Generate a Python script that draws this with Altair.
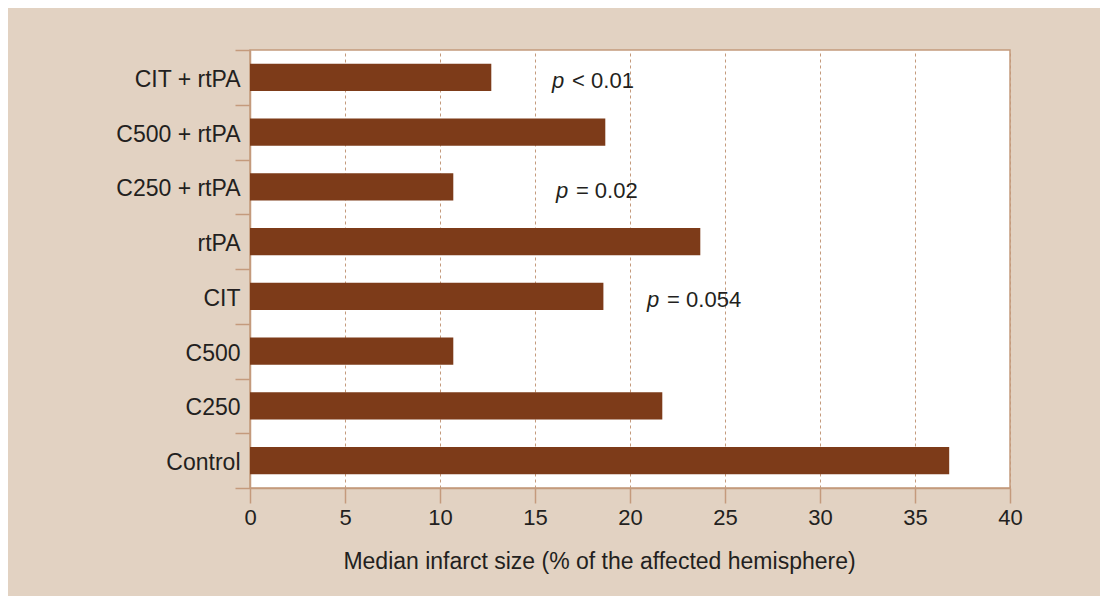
import altair as alt
import pandas as pd

categories = ["CIT + rtPA", "C500 + rtPA", "C250 + rtPA", "rtPA", "CIT", "C500", "C250", "Control"]
values = [12.7, 18.7, 10.7, 23.7, 18.6, 10.7, 21.7, 36.8]

ann_categories = ["CIT + rtPA", "C250 + rtPA", "CIT"]
ann_x = [15.9, 16.1, 20.9]
ann_rest = ["< 0.01", "= 0.02", "= 0.054"]

FONT = "Liberation Sans"
TAN = "#c49a7c"
TEXT = "#231f20"
BAR = "#7d3b19"
BG = "#e2d2c2"

df = pd.DataFrame({"group": categories, "value": values})
ann = pd.DataFrame({"group": ann_categories, "x": ann_x, "rest": ann_rest})

y_enc = alt.Y(
    "group:N",
    sort=categories,
    scale=alt.Scale(paddingInner=0, paddingOuter=0),
    axis=alt.Axis(
        title=None,
        tickBand="extent",
        tickSize=15,
        tickWidth=1.5,
        tickColor=TAN,
        domainColor=TAN,
        domainWidth=1.5,
        labelFont=FONT,
        labelFontSize=23,
        labelColor=TEXT,
        labelPadding=-5,
        labelOffset=2,
        grid=False,
    ),
)

x_scale = alt.Scale(domain=[0, 40], nice=False, zero=True)

bars = alt.Chart(df).mark_bar(color=BAR, height={"band": 0.5}).encode(
    x=alt.X(
        "value:Q",
        scale=x_scale,
        axis=alt.Axis(
            title="Median infarct size (% of the affected hemisphere)",
            values=[0, 5, 10, 15, 20, 25, 30, 35, 40],
            tickSize=15,
            tickWidth=1.5,
            tickColor=TAN,
            domainColor=TAN,
            domainWidth=1.5,
            labelFont=FONT,
            labelFontSize=22,
            labelColor=TEXT,
            labelBaseline="alphabetic",
            labelPadding=21,
            labelFlush=False,
            titleFont=FONT,
            titleFontSize=23,
            titleFontWeight="normal",
            titleColor=TEXT,
            titleBaseline="alphabetic",
            titleAlign="center",
            titleX=349,
            titleY=80,
            grid=True,
            gridColor=TAN,
            gridDash=[3, 3],
            gridWidth=1,
        ),
    ),
    y=y_enc,
)

p_text = alt.Chart(ann).mark_text(
    text="p", font=FONT, fontSize=22, fontStyle="italic", color=TEXT, align="left", dy=4
).encode(
    x=alt.X("x:Q", scale=x_scale),
    y=alt.Y("group:N", sort=categories),
)

rest_text = alt.Chart(ann).mark_text(
    font=FONT, fontSize=22, color=TEXT, align="left", dx=20, dy=4
).encode(
    x=alt.X("x:Q", scale=x_scale),
    y=alt.Y("group:N", sort=categories),
    text="rest:N",
)

chart = (
    alt.layer(bars, p_text, rest_text)
    .properties(
        width=760,
        height=438,
        background=BG,
        padding={"left": 242, "top": 42, "right": 90, "bottom": 108},
        autosize=alt.AutoSizeParams(type="none"),
    )
    .configure_view(stroke=TAN, strokeWidth=1.5, fill="white")
)

chart.save("out.html", embed_options={"renderer": "svg", "actions": False})
